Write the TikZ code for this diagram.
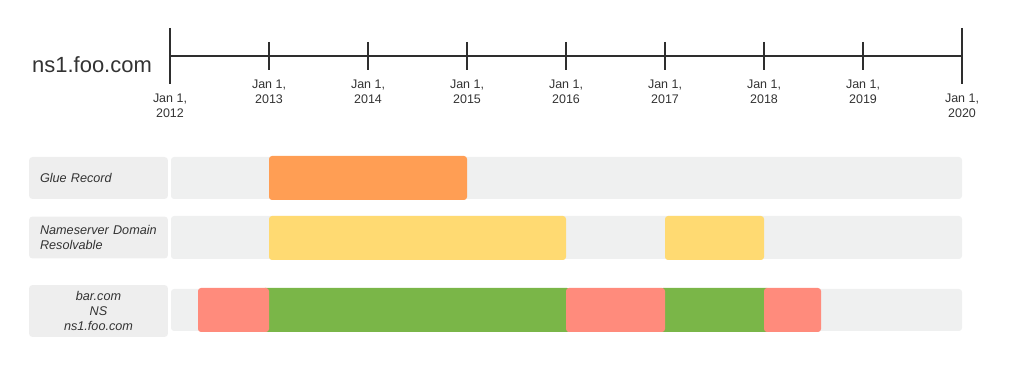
\documentclass[tikz,border=0pt]{standalone}
\usepackage{fontspec}
\setmainfont{Liberation Sans}
\usepackage{tikz}
\usetikzlibrary{positioning}
\definecolor{inkgray}{HTML}{333333}
\definecolor{barbg}{HTML}{EFF0F0}
\definecolor{labelbg}{HTML}{EEEEEE}
\definecolor{glueorange}{HTML}{FF9E54}
\definecolor{resyellow}{HTML}{FFDA72}
\definecolor{nsred}{HTML}{FF8B7C}
\definecolor{nsgreen}{HTML}{7AB648}
\tikzstyle{title} = [text=inkgray, font=\fontsize{12.5}{14}\selectfont]
\tikzstyle{axis} = [line width=0.65pt, draw=inkgray!90!black]
\tikzstyle{datelbl} = [text=inkgray, align=center, font=\fontsize{7.1}{8.5}\selectfont]
\tikzstyle{rowlabel} = [rectangle, rounded corners=2pt, fill=labelbg, minimum width=2.78cm, minimum height=0.84cm, inner xsep=0.22cm, text=inkgray, font=\fontsize{7.2}{8.5}\selectfont\itshape]
\tikzstyle{bar} = [fill=barbg, rounded corners=1.7pt]
\tikzstyle{seg} = [rounded corners=1.7pt]

\begin{document}
\begin{tikzpicture}[x=0.02cm, y=-0.02cm]
\useasboundingbox (0,0) rectangle (1024,367);

\node (title) [title] at (92,65) {ns1.foo.com};

% time axis
\draw [axis] (170,56) coordinate (tstart) -- (962,56) coordinate (tend);
\foreach \yr [count=\i] in {2013,...,2019} {
  \draw [axis] (170+99*\i,42) -- (170+99*\i,70);
  \node (t\yr) [datelbl] at (170+99*\i,91.5) {Jan 1,\\\yr};
}
\foreach \yr/\xx in {2012/170, 2020/962} {
  \draw [axis] (\xx,28) -- (\xx,84);
  \node (t\yr) [datelbl] at (\xx,106) {Jan 1,\\\yr};
}

% rows
\node (glue) [rowlabel, text width=2.34cm, align=left] at (98.5,178) {Glue Record};
\node (resolv) [rowlabel, text width=2.34cm, align=left] at (98.5,237.5) {Nameserver Domain\\Resolvable};
\node (nsrec) [rowlabel, minimum height=1.04cm, align=center] at (98.5,311) {bar.com\\NS\\ns1.foo.com};

\fill [bar] (171,157) rectangle (962,199);
\fill [bar] (171,216) rectangle (962,259);
\fill [bar] (171,289) rectangle (962,331);

% periods
\fill [seg, glueorange] (269,156) rectangle (467,200);

\fill [seg, resyellow] (269,216) rectangle (566,260);
\fill [seg, resyellow] (665,216) rectangle (764,260);

\fill [seg, nsgreen] (262,288) rectangle (570,332);
\fill [seg, nsgreen] (660,288) rectangle (770,332);
\fill [seg, nsred] (198,288) rectangle (269,332);
\fill [seg, nsred] (566,288) rectangle (665,332);
\fill [seg, nsred] (764,288) rectangle (821,332);

\end{tikzpicture}
\end{document}
